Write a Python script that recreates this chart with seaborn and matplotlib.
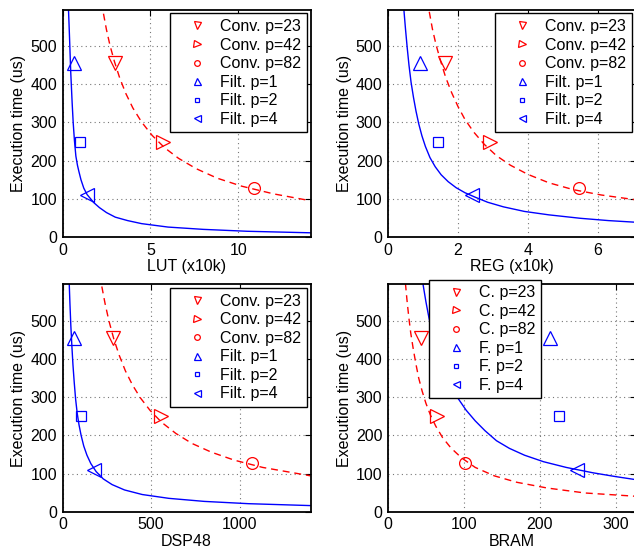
import matplotlib
matplotlib.use('Agg')
import matplotlib.pyplot as plt
import seaborn as sns

sns.set_theme(style='white')
plt.rcParams['font.family'] = ['Liberation Sans', 'DejaVu Sans']
plt.rcParams.update({
    'font.size': 11.5,
    'text.color': 'black',
    'axes.labelcolor': 'black',
    'axes.edgecolor': 'black',
    'xtick.color': 'black',
    'ytick.color': 'black',
})

# execution time (us) of the measured configurations
conv_time = [455, 250, 128]
filt_time = [455, 250, 110]
conv_labels = ['Conv. p=23', 'Conv. p=42', 'Conv. p=82']
filt_labels = ['Filt. p=1', 'Filt. p=2', 'Filt. p=4']
conv_short = ['C. p=23', 'C. p=42', 'C. p=82']
filt_short = ['F. p=1', 'F. p=2', 'F. p=4']

# resource usage of each configuration
lut_conv = [2.97, 5.7, 10.87]
lut_filt = [0.64, 0.98, 1.40]
reg_conv = [1.64, 2.93, 5.47]
reg_filt = [0.91, 1.43, 2.39]
dsp_conv = [287, 557, 1069]
dsp_filt = [66, 107, 180]
bram_conv = [43, 65, 102]
bram_filt = [213, 225, 249]

# trend curves, points
lut_conv_cx = [2.33, 2.5, 2.7, 2.95, 3.25, 3.6, 4.0, 4.5, 5.1, 5.8, 6.6, 7.6, 8.8, 10.2, 12, 14.1]
lut_conv_cy = [585, 543, 502, 460, 417, 376, 338, 301, 266, 234, 206, 179, 154, 133, 113, 95]
lut_filt_cx = [0.34, 0.37, 0.40, 0.43, 0.47, 0.51, 0.55, 0.61, 0.68, 0.76, 0.85, 0.93, 1.05,
               1.21, 1.4, 1.6, 1.78, 2.1, 2.5, 3.0, 3.7, 4.5, 6, 8, 10.5, 14.1]
lut_filt_cy = [596, 560, 522, 482, 430, 390, 350, 298, 252, 212, 188, 172, 150,
               128, 111, 100, 90, 77, 64, 52, 43, 35, 26, 20, 15, 11]

reg_conv_cx = [1.18, 1.27, 1.37, 1.5, 1.65, 1.82, 2.0, 2.2, 2.45, 2.75, 3.1, 3.5, 4.0, 4.6, 5.3, 6.1, 7.2]
reg_conv_cy = [590, 545, 505, 462, 418, 378, 342, 308, 275, 243, 213, 188, 164, 142, 124, 110, 96]
reg_filt_cx = [0.45, 0.5, 0.55, 0.6, 0.66, 0.73, 0.8, 0.88, 0.97, 1.07, 1.2, 1.35, 1.52,
               1.72, 1.95, 2.2, 2.5, 2.85, 3.3, 3.9, 4.6, 5.5, 6.3, 7.2]
reg_filt_cy = [600, 545, 495, 450, 405, 365, 330, 296, 265, 237, 208, 184, 163,
               145, 129, 116, 104, 91, 79, 67, 58, 49, 43, 38]

dsp_conv_cx = [222, 240, 262, 290, 320, 355, 395, 440, 495, 560, 640, 730, 840, 970, 1130, 1400]
dsp_conv_cy = [590, 546, 500, 452, 410, 369, 332, 298, 265, 234, 205, 179, 156, 135, 116, 94]
dsp_filt_cx = [38, 42, 47, 53, 59, 66, 74, 83, 93, 105, 120, 138, 160, 190, 230, 280,
               350, 450, 600, 800, 1050, 1400]
dsp_filt_cy = [598, 545, 488, 433, 385, 340, 295, 258, 228, 200, 172, 148, 126, 105, 86, 71,
               57, 45, 35, 27, 21, 16]

bram_conv_cx = [23, 25, 27.5, 30, 33, 36.5, 40.5, 45, 50, 56, 63, 72, 83, 97, 115, 140,
                170, 210, 260, 330]
bram_conv_cy = [598, 555, 508, 468, 430, 390, 350, 316, 284, 253, 224, 194, 167, 141, 116, 94,
                77, 62, 49, 40]
bram_filt_cx = [46, 50, 54, 58, 63, 69, 76, 84, 93, 103, 115, 128, 143, 160, 180, 205,
                235, 270, 300, 330]
bram_filt_cy = [598, 550, 508, 472, 435, 397, 360, 326, 295, 266, 238, 212, 186, 166, 148, 131,
                116, 102, 92, 83]

conv_markers = ['v', '>', 'o']
filt_markers = ['^', 's', '<']
marker_size = {'v': 10.5, '>': 10.5, '^': 10.5, '<': 10.5, 's': 7.5, 'o': 8.5}


def draw_panel(ax, conv_x, filt_x, conv_curve, filt_curve, xlim, xticks,
               xlabel, labels, legend_kw):
    sns.lineplot(x=filt_curve[0], y=filt_curve[1], ax=ax, color='#0000ff',
                 lw=1.0, sort=False, estimator=None, zorder=2)
    sns.lineplot(x=conv_curve[0], y=conv_curve[1], ax=ax, color='#ff0000',
                 lw=1.0, linestyle=(0, (5, 3.5)), sort=False, estimator=None,
                 zorder=2)
    handles = []
    for x, y, m, lab in zip(conv_x, conv_time, conv_markers, labels[:3]):
        h, = ax.plot([x], [y], linestyle='none', marker=m, ms=marker_size[m],
                     mfc='none', mec='#ff0000', mew=0.9, label=lab, zorder=3)
        handles.append(h)
    for x, y, m, lab in zip(filt_x, filt_time, filt_markers, labels[3:]):
        h, = ax.plot([x], [y], linestyle='none', marker=m, ms=marker_size[m],
                     mfc='none', mec='#0000ff', mew=0.9, label=lab, zorder=3)
        handles.append(h)

    ax.set_xlim(*xlim)
    ax.set_ylim(0, 596)
    ax.set_xticks(xticks)
    ax.set_yticks([0, 100, 200, 300, 400, 500])
    ax.set_xlabel(xlabel, fontsize=11.5, labelpad=1)
    ax.set_ylabel('Execution time (us)', fontsize=11.5, labelpad=3)
    ax.grid(True, linestyle=(0, (1, 3)), color='#777777', lw=0.8)
    ax.set_axisbelow(True)
    ax.tick_params(direction='in', top=True, right=True, length=4, width=0.8,
                   labelsize=11.5, pad=4)
    for sp in ax.spines.values():
        sp.set_linewidth(1.3)
        sp.set_color('black')

    leg = ax.legend(handles=handles, markerscale=0.48, fancybox=False,
                    framealpha=1, handlelength=2.7, handletextpad=0.1,
                    labelspacing=0.22, borderpad=0.35, fontsize=11.5,
                    **legend_kw)
    leg.get_frame().set_edgecolor('black')
    leg.get_frame().set_linewidth(1.0)
    leg.set_zorder(5)


fig = plt.figure(figsize=(6.34, 5.51), dpi=100)
W, H = 634.0, 551.0
aw, ah = 248 / W, 227.5 / H
ax_tl = fig.add_axes([62.5 / W, (H - 237) / H, aw, ah])
ax_tr = fig.add_axes([388 / W, (H - 237) / H, aw, ah])
ax_bl = fig.add_axes([62.5 / W, (H - 511.7) / H, aw, ah])
ax_br = fig.add_axes([388 / W, (H - 511.7) / H, aw, ah])

upper_right = dict(loc='upper right', borderaxespad=0.25)

draw_panel(ax_tl, lut_conv, lut_filt, (lut_conv_cx, lut_conv_cy),
           (lut_filt_cx, lut_filt_cy), (0, 14.1), [0, 5, 10], 'LUT (x10k)',
           conv_labels + filt_labels, upper_right)
draw_panel(ax_tr, reg_conv, reg_filt, (reg_conv_cx, reg_conv_cy),
           (reg_filt_cx, reg_filt_cy), (0, 7.09), [0, 2, 4, 6], 'REG (x10k)',
           conv_labels + filt_labels, dict(loc='upper right', borderaxespad=0.25))
draw_panel(ax_bl, dsp_conv, dsp_filt, (dsp_conv_cx, dsp_conv_cy),
           (dsp_filt_cx, dsp_filt_cy), (0, 1400), [0, 500, 1000], 'DSP48',
           conv_labels + filt_labels, upper_right)
draw_panel(ax_br, bram_conv, bram_filt, (bram_conv_cx, bram_conv_cy),
           (bram_filt_cx, bram_filt_cy), (0, 327), [0, 100, 200, 300], 'BRAM',
           conv_short + filt_short,
           dict(loc='upper left', bbox_to_anchor=(0.165, 1.02), borderaxespad=0))

fig.savefig('out.png', dpi=100)
